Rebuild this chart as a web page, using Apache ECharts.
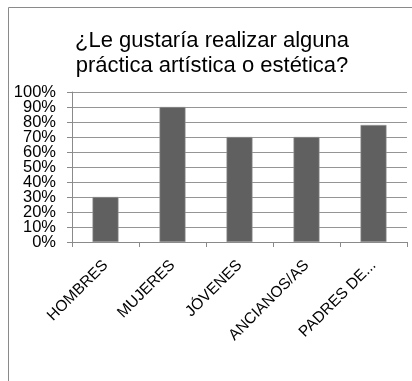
<!DOCTYPE html>
<html><head><meta charset="utf-8">
<script src="https://cdn.jsdelivr.net/npm/echarts@6/dist/echarts.min.js"></script>
<style>html,body{margin:0;padding:0;background:#fff}#c{width:412px;height:381px}</style>
</head><body><div id="c"></div>
<script>
const categories = ['HOMBRES', 'MUJERES', 'JÓVENES', 'ANCIANOS/AS', 'PADRES DE...'];
const values = [30, 90, 70, 70, 78];
const yTicks = [0, 10, 20, 30, 40, 50, 60, 70, 80, 90, 100];
const titleText = '¿Le gustaría realizar alguna\npráctica artística o estética?';

const evenTicks = yTicks.filter((v, i) => i % 2 === 0);
const oddTicks = yTicks.filter((v, i) => i % 2 === 1);
const labelStyle = {margin: 16, fontFamily: 'Liberation Sans', fontSize: 16.5, color: '#000',
  showMinLabel: true, showMaxLabel: true, hideOverlap: false};

const chart = echarts.init(document.getElementById('c'), null, {renderer: 'canvas'});
chart.setOption({
  animation: false,
  backgroundColor: '#fff',
  graphic: [{
    type: 'rect', shape: {x: 8.5, y: 7.5, width: 430, height: 400},
    style: {fill: 'none', stroke: '#8a8a8a', lineWidth: 1}, z: 100
  }],
  title: {
    text: titleText, left: 207, top: 23, textAlign: 'center',
    textStyle: {fontFamily: 'Liberation Sans', fontSize: 22, fontWeight: 'normal', color: '#000', lineHeight: 25}
  },
  grid: {left: 72, right: 5, top: 92, bottom: 139, containLabel: false},
  xAxis: {
    type: 'category', data: categories,
    axisLine: {show: true, lineStyle: {color: '#8a8a8a'}},
    axisTick: {show: true, length: 5, alignWithLabel: false, lineStyle: {color: '#8a8a8a'}},
    axisLabel: {rotate: 45, margin: 21, interval: 0, fontFamily: 'Liberation Sans', fontSize: 15.5, color: '#000'}
  },
  yAxis: [{
    type: 'value', min: 0, max: 100, interval: 10, position: 'left',
    axisLine: {show: true, lineStyle: {color: '#8a8a8a'}},
    axisTick: {show: true, length: 5, lineStyle: {color: '#8a8a8a'}},
    splitLine: {show: true, lineStyle: {color: '#959595'}},
    axisLabel: Object.assign({}, labelStyle, {formatter: v => evenTicks.includes(v) ? v + '%' : ''})
  }, {
    type: 'value', min: 0, max: 100, interval: 10, position: 'left', offset: 0,
    axisLine: {show: false}, axisTick: {show: false}, splitLine: {show: false},
    axisLabel: Object.assign({}, labelStyle, {formatter: v => oddTicks.includes(v) ? v + '%' : ''})
  }],
  series: [{
    type: 'bar', data: values, barWidth: 26, yAxisIndex: 0,
    itemStyle: {color: '#606060', borderColor: '#9a9a9a', borderWidth: 0.6}
  }]
});
</script></body></html>
